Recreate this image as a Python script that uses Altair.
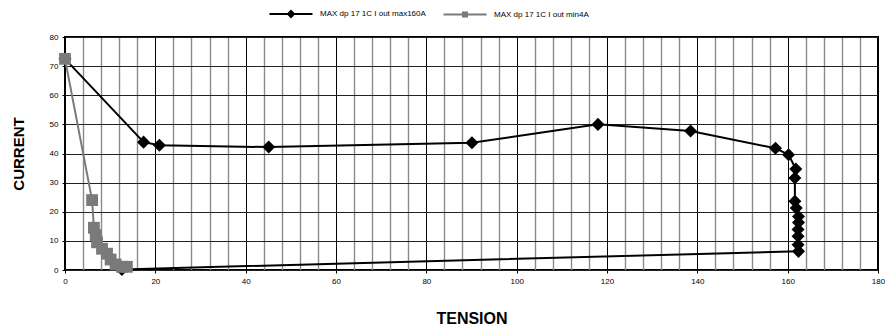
import altair as alt
import pandas as pd

series_names = ["MAX dp 17 1C I out max160A", "MAX dp 17 1C I out min4A"]

max_x = [0, 17.4, 20.9, 45.1, 90.1, 118.0, 138.5, 157.3, 160.2, 161.8, 161.6, 161.6,
         161.9, 162.4, 162.4, 162.3, 162.3, 162.3, 162.4, 12.6]
max_y = [72.5, 43.9, 42.8, 42.2, 43.7, 50.0, 47.7, 41.8, 39.6, 34.7, 31.6, 23.6,
         21.3, 18.4, 16.3, 13.9, 11.6, 8.7, 6.4, 0.2]

min_x = [0, 6.0, 6.4, 6.8, 7.1, 8.2, 9.3, 10.1, 11.2, 12.6, 13.7]
min_y = [72.5, 24.0, 14.5, 12.0, 9.5, 7.3, 5.6, 3.6, 1.9, 1.1, 1.1]

x_grid = list(range(0, 181, 4))
y_ticks = [0, 10, 20, 30, 40, 50, 60, 70, 80]

rows = []
for i, (xv, yv) in enumerate(zip(max_x, max_y)):
    rows.append({"series": series_names[0], "x": xv, "y": yv, "i": i})
for i, (xv, yv) in enumerate(zip(min_x, min_y)):
    rows.append({"series": series_names[1], "x": xv, "y": yv, "i": i})
df = pd.DataFrame(rows)

FONT = "Liberation Sans"
BLACK = "#000000"
GRAY = "#7a7a7a"

x_enc = alt.X(
    "x:Q",
    scale=alt.Scale(domain=[0, 180], nice=False, zero=False),
    axis=alt.Axis(
        values=x_grid,
        title="TENSION",
        titleFont=FONT, titleFontSize=16, titleFontWeight="bold", titleColor=BLACK,
        titlePadding=25,
        labelExpr="datum.value % 20 === 0 ? datum.label : ''",
        labelFont=FONT, labelFontSize=8, labelColor=BLACK, labelPadding=4,
        labelFlush=False,
        grid=True,
        gridColor={"condition": {"test": "datum.value % 20 === 0", "value": "#000000"}, "value": "#8a8a8a"},
        gridWidth={"condition": {"test": "datum.value % 20 === 0", "value": 1}, "value": 1.4},
        ticks=True, tickSize=3, tickColor=BLACK,
        tickOpacity={"condition": {"test": "datum.value % 20 === 0", "value": 1}, "value": 0},
        domain=False,
    ),
)
y_enc = alt.Y(
    "y:Q",
    scale=alt.Scale(domain=[0, 80], nice=False, zero=False),
    axis=alt.Axis(
        values=y_ticks,
        title="CURRENT",
        titleFont=FONT, titleFontSize=15, titleFontWeight="bold", titleColor=BLACK,
        titlePadding=23,
        labelFont=FONT, labelFontSize=8, labelColor=BLACK, labelPadding=4,
        grid=True, gridColor="#222222", gridWidth=1,
        ticks=True, tickSize=3, tickColor=BLACK,
        domain=False,
    ),
)

base = alt.Chart(df)
d_max = base.transform_filter(alt.datum.series == series_names[0])
d_min = base.transform_filter(alt.datum.series == series_names[1])

line_max = d_max.mark_line(color=BLACK, strokeWidth=2).encode(x=x_enc, y=y_enc, order="i:Q")
pts_max = d_max.mark_point(shape="diamond", filled=True, color=BLACK, size=170, opacity=1).encode(x=x_enc, y=y_enc)
line_min = d_min.mark_line(color=GRAY, strokeWidth=2).encode(x=x_enc, y=y_enc, order="i:Q")
pts_min = d_min.mark_point(shape="square", filled=True, color=GRAY, size=140, opacity=1).encode(x=x_enc, y=y_enc)

diamond_path = "M-4.3,0H4.3M-0.6,0L0,-0.6L0.6,0L0,0.6ZM-0.3,0L0,-0.3L0.3,0L0,0.3Z"
square_path = "M-4.3,0H4.3M-0.4,-0.4H0.4V0.4H-0.4ZM-0.2,-0.2H0.2V0.2H-0.2Z"

leg = dict(
    title=None, orient="none", direction="horizontal",
    legendX=220, legendY=-29,
    labelFont=FONT, labelFontSize=8, labelColor=BLACK,
    symbolSize=100, symbolStrokeWidth=2, symbolOpacity=1,
    labelOffset=23, columnPadding=13,
)

legend_layer = base.mark_point(filled=False, opacity=0).encode(
    x=x_enc,
    y=y_enc,
    color=alt.Color("series:N", scale=alt.Scale(domain=series_names, range=[BLACK, GRAY]),
                    legend=alt.Legend(**leg)),
    shape=alt.Shape("series:N", scale=alt.Scale(domain=series_names, range=[diamond_path, square_path]),
                    legend=alt.Legend(**leg)),
)

chart = alt.layer(line_max, pts_max, line_min, pts_min, legend_layer).properties(
    width=813,
    height=233,
    autosize=alt.AutoSizeParams(type="none"),
    padding={"left": 57, "top": 29, "right": 7, "bottom": 55},
    background="white",
).configure_view(stroke=BLACK, strokeWidth=2)

chart.save("out.html", embed_options={"renderer": "svg", "actions": False})
